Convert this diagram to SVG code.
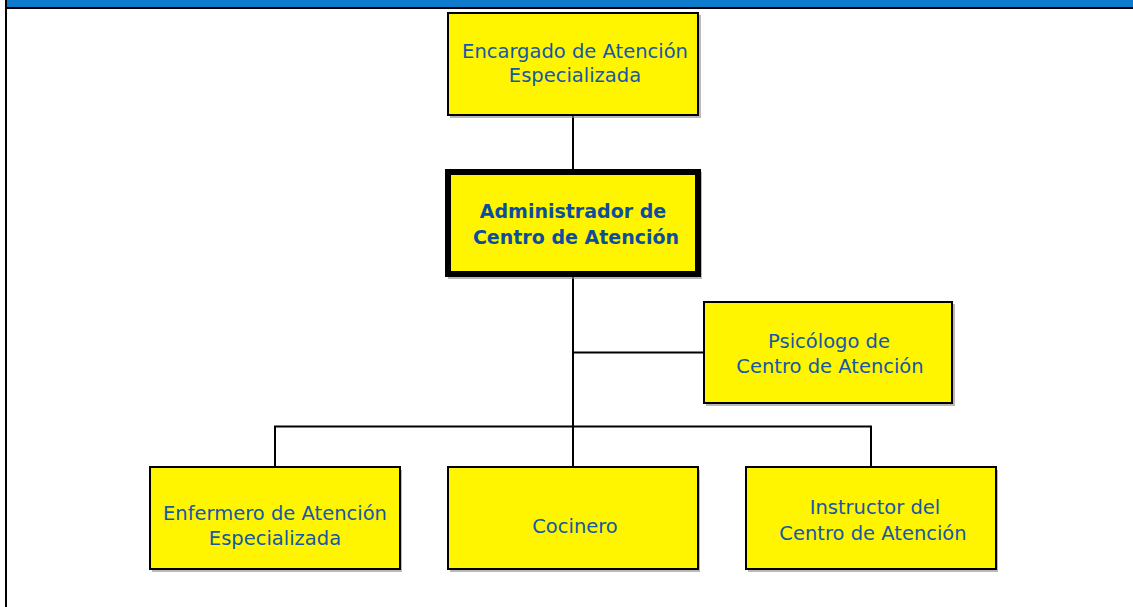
<svg xmlns="http://www.w3.org/2000/svg" width="1133" height="607" viewBox="0 0 1133 607">
<style>
.box{fill:#fff500;stroke:#000;stroke-width:2}
.sh{fill:#8a8a8a;opacity:0.6}
.t{font-family:"DejaVu Sans",Verdana,sans-serif;font-size:19.5px;fill:#1557a8;text-anchor:middle}
.b{font-weight:bold;fill:#0d4c9f;font-size:19px}
.ln{stroke:#000;stroke-width:2;fill:none}
</style>
<rect x="0" y="0" width="1133" height="607" fill="#fff"/>
<rect x="6" y="0" width="1127" height="7" fill="#0d7acc"/>
<rect x="5" y="7" width="1128" height="2" fill="#000"/>
<rect x="5" y="0" width="2" height="607" fill="#000"/>
<g id="connectors">
<path class="ln" d="M573 115V171M573 276V467M573 352.5H704M275 467V426.5H871V467"/>
</g>
<g id="n-encargado">
<rect class="sh" x="450" y="15" width="251" height="103"/>
<rect class="box" x="448" y="13" width="250" height="102"/>
<text class="t" x="575" y="58">Encargado de Atención</text>
<text class="t" x="575" y="82">Especializada</text>
</g>
<g id="n-administrador">
<rect class="sh" x="448" y="172" width="254" height="107"/>
<rect x="448" y="172" width="250" height="102" fill="#fff500" stroke="#000" stroke-width="6"/>
<text class="t b" x="573" y="218">Administrador de</text>
<text class="t b" x="576" y="244">Centro de Atención</text>
</g>
<g id="n-psicologo">
<rect class="sh" x="706" y="304" width="249" height="102"/>
<rect class="box" x="704" y="302" width="248" height="101"/>
<text class="t" x="829" y="348">Psicólogo de</text>
<text class="t" x="830" y="373">Centro de Atención</text>
</g>
<g id="n-enfermero">
<rect class="sh" x="152" y="470" width="250" height="102"/>
<rect class="box" x="150" y="467" width="250" height="102"/>
<text class="t" x="275" y="520">Enfermero de Atención</text>
<text class="t" x="275" y="545">Especializada</text>
</g>
<g id="n-cocinero">
<rect class="sh" x="450" y="470" width="250" height="102"/>
<rect class="box" x="448" y="467" width="250" height="102"/>
<text class="t" x="575" y="533">Cocinero</text>
</g>
<g id="n-instructor">
<rect class="sh" x="748" y="470" width="250" height="102"/>
<rect class="box" x="746" y="467" width="250" height="102"/>
<text class="t" x="875" y="514">Instructor del</text>
<text class="t" x="873" y="540">Centro de Atención</text>
</g>
</svg>
